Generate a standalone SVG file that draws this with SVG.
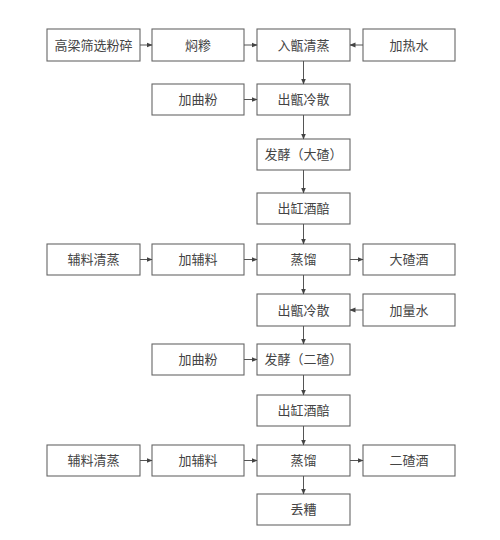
<svg xmlns="http://www.w3.org/2000/svg" width="500" height="540" viewBox="0 0 500 540">
<defs>
<marker id="ah" markerWidth="6" markerHeight="6" refX="5.5" refY="3" orient="auto" markerUnits="userSpaceOnUse">
<path d="M0,0.5 L6,3 L0,5.5 Z" fill="#444"/>
</marker>
<style>
.b{fill:#fff;stroke:#666;stroke-width:1.1}
.t{font-family:"Liberation Serif","Noto Sans CJK SC",serif;font-size:13px;fill:#444;text-anchor:middle;dominant-baseline:central}
.c{stroke:#555;stroke-width:1;fill:none;marker-end:url(#ah)}
</style>
</defs>
<rect width="500" height="540" fill="#fff"/>
<g id="n1"><rect class="b" x="47" y="29" width="93" height="32"/><text class="t" x="93.5" y="45">高梁筛选粉碎</text></g>
<g id="n2"><rect class="b" x="152" y="29" width="92" height="32"/><text class="t" x="198" y="45">焖糁</text></g>
<g id="n3"><rect class="b" x="257" y="29" width="93" height="32"/><text class="t" x="303.5" y="45">入甑清蒸</text></g>
<g id="n4"><rect class="b" x="363" y="29" width="92" height="32"/><text class="t" x="409" y="45">加热水</text></g>
<g id="n5"><rect class="b" x="152" y="84" width="92" height="31"/><text class="t" x="198" y="99.5">加曲粉</text></g>
<g id="n6"><rect class="b" x="257" y="84" width="93" height="31"/><text class="t" x="303.5" y="99.5">出甑冷散</text></g>
<g id="n7"><rect class="b" x="257" y="139" width="93" height="31"/><text class="t" x="303.5" y="154.5">发酵（大碴）</text></g>
<g id="n8"><rect class="b" x="257" y="193" width="93" height="31"/><text class="t" x="303.5" y="208.5">出缸酒醅</text></g>
<g id="n9"><rect class="b" x="47" y="244" width="93" height="31"/><text class="t" x="93.5" y="259.5">辅料清蒸</text></g>
<g id="n10"><rect class="b" x="152" y="244" width="92" height="31"/><text class="t" x="198" y="259.5">加辅料</text></g>
<g id="n11"><rect class="b" x="257" y="244" width="93" height="31"/><text class="t" x="303.5" y="259.5">蒸馏</text></g>
<g id="n12"><rect class="b" x="363" y="244" width="92" height="31"/><text class="t" x="409" y="259.5">大碴酒</text></g>
<g id="n13"><rect class="b" x="257" y="294" width="93" height="32"/><text class="t" x="303.5" y="310">出甑冷散</text></g>
<g id="n14"><rect class="b" x="363" y="294" width="92" height="32"/><text class="t" x="409" y="310">加量水</text></g>
<g id="n15"><rect class="b" x="152" y="344" width="92" height="31"/><text class="t" x="198" y="359.5">加曲粉</text></g>
<g id="n16"><rect class="b" x="257" y="344" width="93" height="31"/><text class="t" x="303.5" y="359.5">发酵（二碴）</text></g>
<g id="n17"><rect class="b" x="257" y="395" width="93" height="31"/><text class="t" x="303.5" y="410.5">出缸酒醅</text></g>
<g id="n18"><rect class="b" x="47" y="445" width="93" height="31"/><text class="t" x="93.5" y="460.5">辅料清蒸</text></g>
<g id="n19"><rect class="b" x="152" y="445" width="92" height="31"/><text class="t" x="198" y="460.5">加辅料</text></g>
<g id="n20"><rect class="b" x="257" y="445" width="93" height="31"/><text class="t" x="303.5" y="460.5">蒸馏</text></g>
<g id="n21"><rect class="b" x="363" y="445" width="92" height="31"/><text class="t" x="409" y="460.5">二碴酒</text></g>
<g id="n22"><rect class="b" x="257" y="494" width="93" height="31"/><text class="t" x="303.5" y="509.5">丢糟</text></g>
<g id="connectors">
<line class="c" x1="140" y1="45" x2="152" y2="45"/>
<line class="c" x1="244" y1="45" x2="257" y2="45"/>
<line class="c" x1="363" y1="45" x2="350" y2="45"/>
<line class="c" x1="303.5" y1="61" x2="303.5" y2="84"/>
<line class="c" x1="244" y1="99.5" x2="257" y2="99.5"/>
<line class="c" x1="303.5" y1="115" x2="303.5" y2="139"/>
<line class="c" x1="303.5" y1="170" x2="303.5" y2="193"/>
<line class="c" x1="303.5" y1="224" x2="303.5" y2="244"/>
<line class="c" x1="140" y1="259.5" x2="152" y2="259.5"/>
<line class="c" x1="244" y1="259.5" x2="257" y2="259.5"/>
<line class="c" x1="350" y1="259.5" x2="363" y2="259.5"/>
<line class="c" x1="303.5" y1="275" x2="303.5" y2="294"/>
<line class="c" x1="363" y1="310" x2="350" y2="310"/>
<line class="c" x1="303.5" y1="326" x2="303.5" y2="344"/>
<line class="c" x1="244" y1="359.5" x2="257" y2="359.5"/>
<line class="c" x1="303.5" y1="375" x2="303.5" y2="395"/>
<line class="c" x1="303.5" y1="426" x2="303.5" y2="445"/>
<line class="c" x1="140" y1="460.5" x2="152" y2="460.5"/>
<line class="c" x1="244" y1="460.5" x2="257" y2="460.5"/>
<line class="c" x1="350" y1="460.5" x2="363" y2="460.5"/>
<line class="c" x1="303.5" y1="476" x2="303.5" y2="494"/>
</g>
</svg>
